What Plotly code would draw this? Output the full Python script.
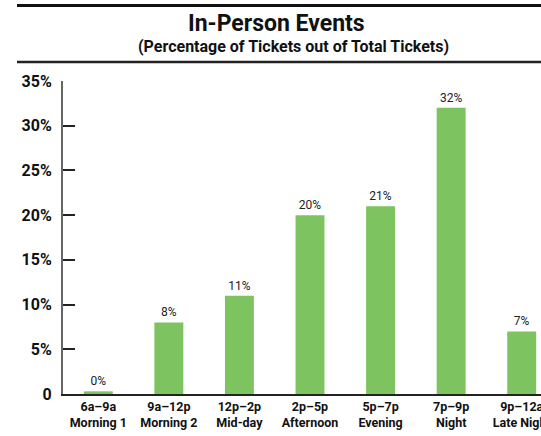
import plotly.graph_objects as go

# Ticket share by time slot (percent of total tickets)
slot_ranges = ["6a–9a", "9a–12p", "12p–2p", "2p–5p", "5p–7p", "7p–9p", "9p–12a"]
slot_names = ["Morning 1", "Morning 2", "Mid-day", "Afternoon", "Evening", "Night", "Late Night"]
ticket_share = [0.3, 8, 11, 20, 21, 32, 7]

y_tick_vals = [0, 5, 10, 15, 20, 25, 30, 35]
y_tick_text = ["0", "5%", "10%", "15%", "20%", "25%", "30%", "35%"]

categories = [f"{r}<br>{n}" for r, n in zip(slot_ranges, slot_names)]

BAR_GREEN = "#7dc461"
FONT = "Roboto"

W, H = 565, 436
L, R, T, B = 63, 8, 81, 42
plot_w = W - L - R
plot_h = H - T - B


def px_to_paper_x(px):
    return (px - L) / plot_w


def px_to_paper_y(py):
    return (H - B - py) / plot_h


fig = go.Figure(
    go.Bar(
        x=categories,
        y=ticket_share,
        marker=dict(color=BAR_GREEN, line=dict(width=0)),
        texttemplate="%{y:.0f}%",
        textposition="outside",
        textfont=dict(family=FONT, size=12, color="#222222"),
        cliponaxis=False,
        hoverinfo="skip",
    )
)

fig.update_layout(
    width=W,
    height=H,
    margin=dict(l=L, r=R, t=T, b=B, pad=0),
    paper_bgcolor="white",
    plot_bgcolor="white",
    bargap=0.59,
    showlegend=False,
    font=dict(family=FONT, color="#111111"),
)

fig.update_xaxes(
    type="category",
    range=[-0.5, 6.5],
    showgrid=False,
    zeroline=False,
    showline=True,
    linecolor="#222222",
    linewidth=1.5,
    ticks="",
    automargin=False,
    tickfont=dict(family=FONT, size=12.5, color="#111111", weight="bold"),
)

fig.update_yaxes(
    range=[0, 35],
    tickvals=y_tick_vals,
    ticktext=y_tick_text,
    showgrid=False,
    zeroline=False,
    showline=True,
    linecolor="#666666",
    linewidth=2,
    ticks="inside",
    ticklen=12,
    tickwidth=1.5,
    tickcolor="#222222",
    ticklabelstandoff=6,
    automargin=False,
    tickfont=dict(family=FONT, size=16, color="#111111", weight="bold"),
)

# Header rules above and below the titles
for py, width, color in [(5.5, 3, "#111111"), (62, 2.5, "#222222")]:
    fig.add_shape(
        type="line",
        xref="paper", yref="paper",
        x0=px_to_paper_x(17), x1=px_to_paper_x(W + 10),
        y0=px_to_paper_y(py), y1=px_to_paper_y(py),
        line=dict(color=color, width=width),
        layer="above",
    )

fig.add_annotation(
    text="<b>In-Person Events</b>",
    xref="paper", yref="paper",
    x=px_to_paper_x(276), y=px_to_paper_y(24),
    xanchor="center", yanchor="middle",
    showarrow=False,
    font=dict(family=FONT, size=23, color="#111111"),
)
fig.add_annotation(
    text="<b>(Percentage of Tickets out of Total Tickets)</b>",
    xref="paper", yref="paper",
    x=px_to_paper_x(293), y=px_to_paper_y(46),
    xanchor="center", yanchor="middle",
    showarrow=False,
    font=dict(family=FONT, size=16, color="#111111"),
)

fig.write_html("out.html")
